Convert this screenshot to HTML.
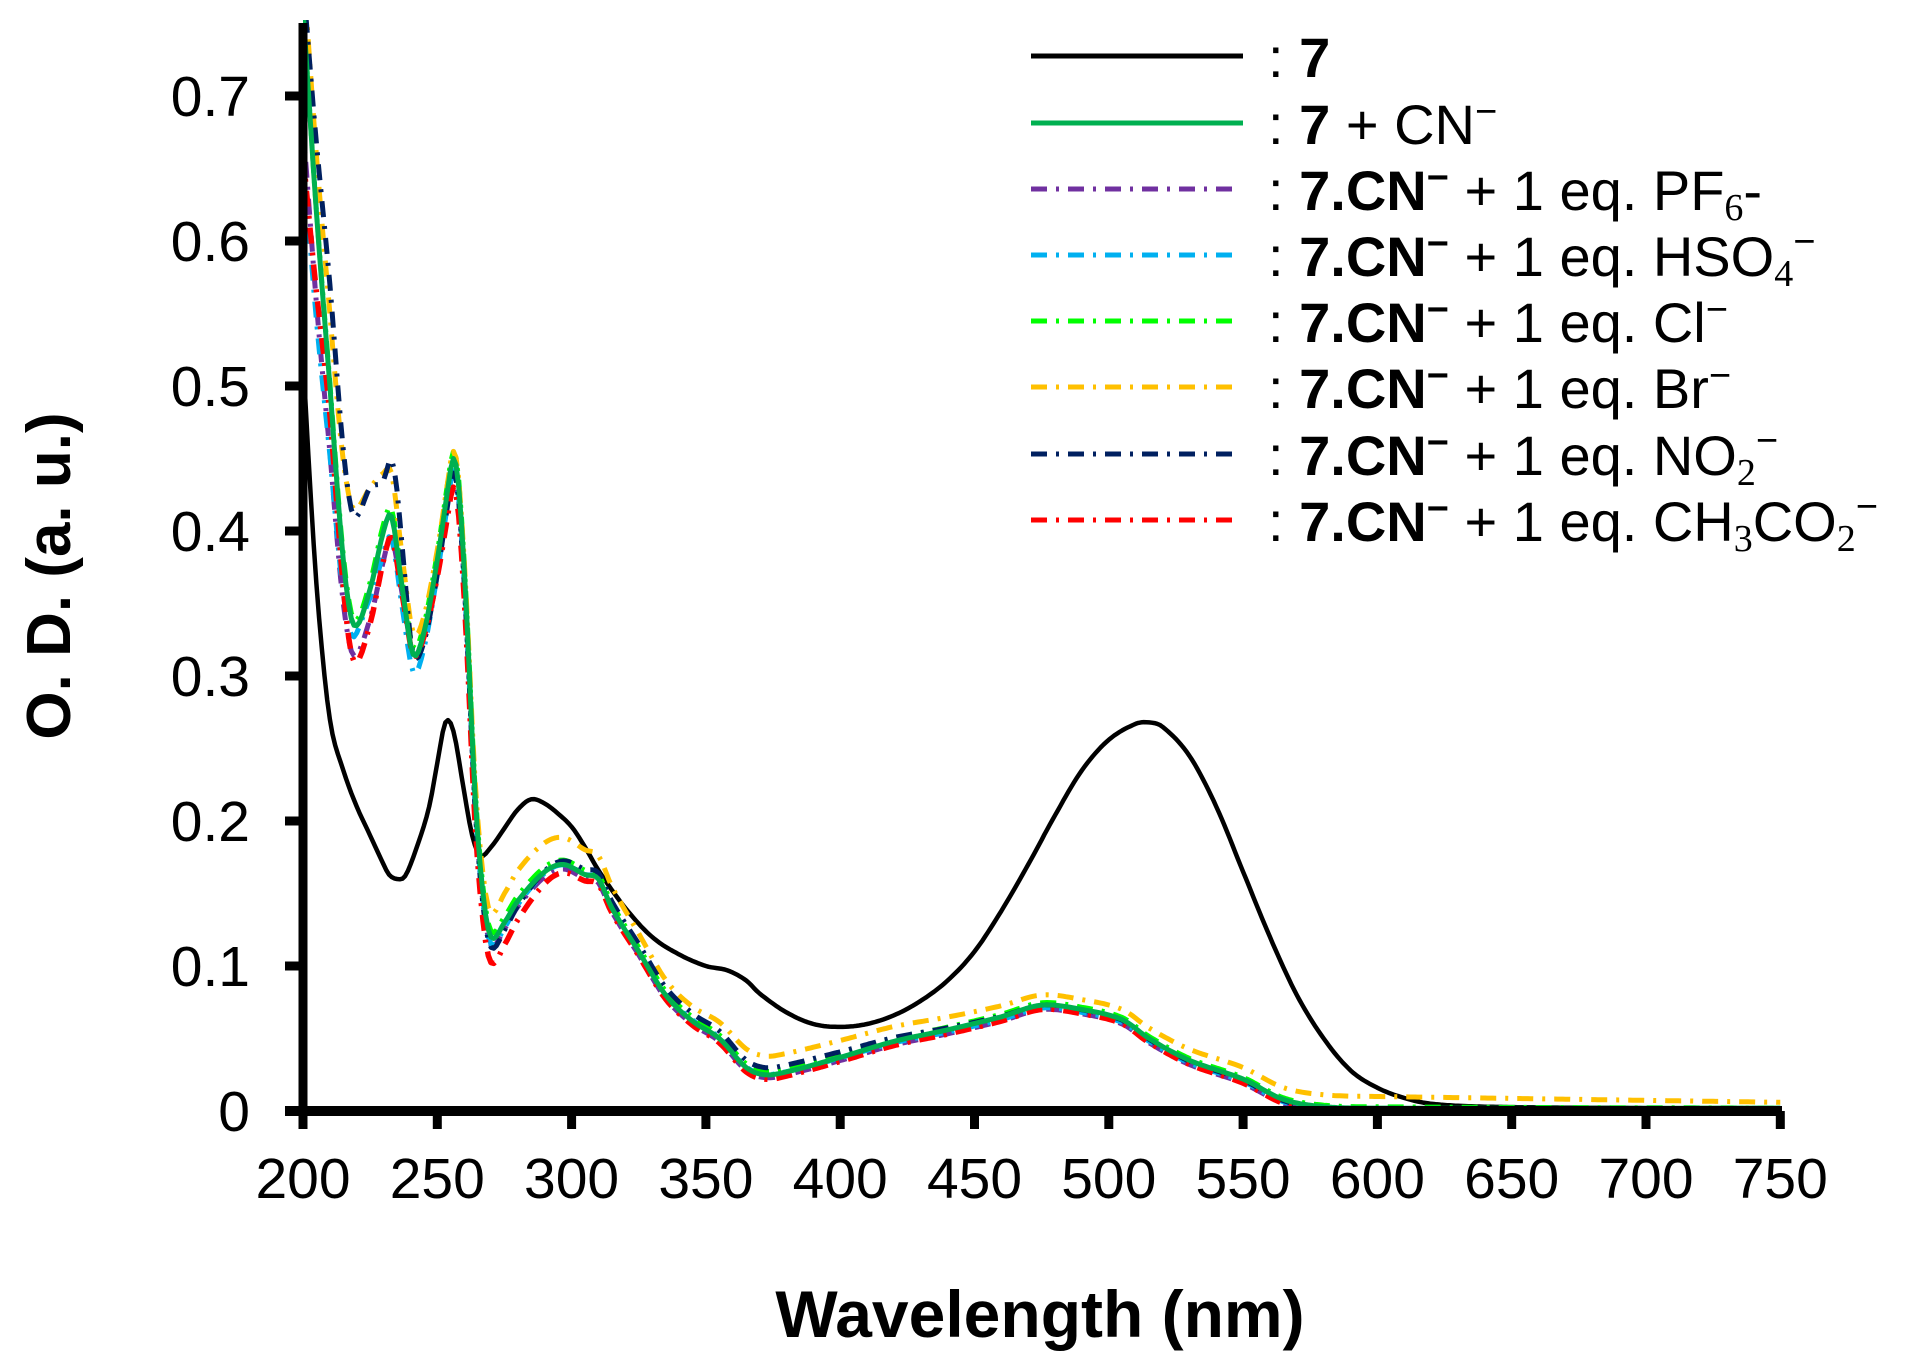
<!DOCTYPE html>
<html><head><meta charset="utf-8"><style>html,body{margin:0;padding:0;background:#fff}svg{display:block}</style></head>
<body>
<svg id="s" width="1918" height="1364" viewBox="0 0 1918 1364" xmlns="http://www.w3.org/2000/svg" font-family="Liberation Sans, Arial, sans-serif">
<defs><clipPath id="c"><rect x="303" y="20" width="1480" height="1095"/></clipPath></defs>
<g id="curves" clip-path="url(#c)" fill="none" stroke-linejoin="round"></g>
<line x1="303" y1="23" x2="303" y2="1116" stroke="#000" stroke-width="9"/>
<line x1="285" y1="1111" x2="1782" y2="1111" stroke="#000" stroke-width="10"/>
<g id="ticks" stroke="#000" stroke-width="9"></g>
<g id="labels" font-size="57" fill="#000"></g>
<text transform="translate(70,576) rotate(-90)" text-anchor="middle" font-size="62" font-weight="bold">O. D. (a. u.)</text>
<text x="1040" y="1337" text-anchor="middle" font-size="66" font-weight="bold">Wavelength (nm)</text>
<g stroke-width="5" fill="none">
<line x1="1031" y1="56" x2="1243" y2="56" stroke="#000"/>
<line x1="1031" y1="123" x2="1243" y2="123" stroke="#00b050"/>
<line x1="1031" y1="189" x2="1232" y2="189" stroke="#7030a0" stroke-dasharray="16 9 3 9"/>
<line x1="1031" y1="255" x2="1232" y2="255" stroke="#00b0f0" stroke-dasharray="16 9 3 9"/>
<line x1="1031" y1="321" x2="1232" y2="321" stroke="#00ff00" stroke-dasharray="16 9 3 9"/>
<line x1="1031" y1="387" x2="1232" y2="387" stroke="#ffc000" stroke-dasharray="16 9 3 9"/>
<line x1="1031" y1="454" x2="1232" y2="454" stroke="#002060" stroke-dasharray="16 9 3 9"/>
<line x1="1031" y1="520" x2="1232" y2="520" stroke="#ff0000" stroke-dasharray="16 9 3 9"/>
</g>
<g font-size="56" fill="#000">
<text x="1268" y="77">: <tspan font-weight="bold">7</tspan></text>
<text x="1268" y="144">: <tspan font-weight="bold">7</tspan> + CN<tspan dy="-20" font-size="38">−</tspan></text>
<text x="1268" y="210">: <tspan font-weight="bold">7.CN<tspan dy="-20" font-size="38">−</tspan></tspan><tspan dy="20"> + 1 eq. PF</tspan><tspan dy="10" font-size="38" font-family="Liberation Serif">6</tspan><tspan dy="-10">-</tspan></text>
<text x="1268" y="276">: <tspan font-weight="bold">7.CN<tspan dy="-20" font-size="38">−</tspan></tspan><tspan dy="20"> + 1 eq. HSO</tspan><tspan dy="10" font-size="38" font-family="Liberation Serif">4</tspan><tspan dy="-32" font-size="38">−</tspan></text>
<text x="1268" y="342">: <tspan font-weight="bold">7.CN<tspan dy="-20" font-size="38">−</tspan></tspan><tspan dy="20"> + 1 eq. Cl</tspan><tspan dy="-20" font-size="38">−</tspan></text>
<text x="1268" y="408">: <tspan font-weight="bold">7.CN<tspan dy="-20" font-size="38">−</tspan></tspan><tspan dy="20"> + 1 eq. Br</tspan><tspan dy="-20" font-size="38">−</tspan></text>
<text x="1268" y="475">: <tspan font-weight="bold">7.CN<tspan dy="-20" font-size="38">−</tspan></tspan><tspan dy="20"> + 1 eq. NO</tspan><tspan dy="10" font-size="38" font-family="Liberation Serif">2</tspan><tspan dy="-32" font-size="38">−</tspan></text>
<text x="1268" y="541">: <tspan font-weight="bold">7.CN<tspan dy="-20" font-size="38">−</tspan></tspan><tspan dy="20"> + 1 eq. CH</tspan><tspan dy="10" font-size="38" font-family="Liberation Serif">3</tspan><tspan dy="-10">CO</tspan><tspan dy="10" font-size="38" font-family="Liberation Serif">2</tspan><tspan dy="-32" font-size="38">−</tspan></text>
</g>
</svg>
<script>
var NS="http://www.w3.org/2000/svg";
function X(nm){return 303+(nm-200)*134.3/50;}
function Y(v){return 1111-v*1450;}
var t=document.getElementById('ticks'),l=document.getElementById('labels');
function el(p,tag,a,txt){var e=document.createElementNS(NS,tag);for(var k in a)e.setAttribute(k,a[k]);if(txt!=null)e.textContent=txt;p.appendChild(e);return e;}
for(var nm=200;nm<=750;nm+=50){var x=X(nm);el(t,'line',{x1:x,y1:1111,x2:x,y2:1129});el(l,'text',{x:x,y:1198,'text-anchor':'middle'},String(nm));}
for(var i=0;i<=7;i++){var y=Y(i/10);el(t,'line',{x1:285,y1:y,x2:303,y2:y});el(l,'text',{x:250,y:y+20,'text-anchor':'end'},i==0?'0':(i/10).toFixed(1));}
function interp(pts,x){var n=pts.length;
 for(var i=0;i<n-1;i++){if(x>=pts[i][0]&&x<=pts[i+1][0]){
  var x0=pts[i][0],x1=pts[i+1][0],h=x1-x0,f=(x-x0)/h;
  var y0=pts[i][1],y1=pts[i+1][1];
  var m0=i>0?(y1-pts[i-1][1])/(x1-pts[i-1][0]):(y1-y0)/h;
  var m1=i<n-2?(pts[i+2][1]-y0)/(pts[i+2][0]-x0):(y1-y0)/h;
  var f2=f*f,f3=f2*f;
  return (2*f3-3*f2+1)*y0+(f3-2*f2+f)*h*m0+(-2*f3+3*f2)*y1+(f3-f2)*h*m1;}}
 return pts[n-1][1];}
var black=[[200,0.52],[203,0.42],[206,0.34],[210,0.27],[215,0.235],[220,0.21],[225,0.19],[230,0.17],[232,0.163],[235,0.16],[238,0.162],[242,0.18],[247,0.21],[250,0.24],[253,0.268],[256,0.262],[260,0.22],[263,0.19],[266,0.176],[270,0.182],[275,0.195],[280,0.208],[285,0.215],[290,0.212],[295,0.205],[300,0.196],[305,0.182],[310,0.166],[320,0.14],[330,0.12],[340,0.108],[350,0.1],[358,0.097],[365,0.09],[370,0.081],[380,0.068],[390,0.06],[400,0.058],[410,0.06],[420,0.066],[430,0.076],[440,0.09],[450,0.11],[460,0.138],[470,0.17],[480,0.204],[490,0.235],[500,0.256],[510,0.267],[515,0.268],[520,0.265],[530,0.245],[540,0.21],[550,0.165],[560,0.12],[570,0.08],[580,0.05],[590,0.028],[600,0.016],[610,0.009],[620,0.005],[640,0.003],[700,0.002],[750,0.001]];
var green=[[200,0.76],[205,0.62],[210,0.5],[215,0.38],[219,0.335],[225,0.36],[230,0.40],[233,0.41],[237,0.36],[241,0.315],[245,0.33],[250,0.38],[254,0.43],[256,0.45],[258,0.43],[261,0.34],[264,0.22],[267,0.15],[270,0.12],[275,0.13],[280,0.145],[290,0.165],[297,0.17],[305,0.163],[310,0.16],[315,0.14],[325,0.11],[335,0.08],[345,0.062],[355,0.05],[365,0.03],[372,0.025],[380,0.027],[400,0.037],[420,0.048],[440,0.056],[460,0.065],[475,0.073],[490,0.07],[505,0.063],[515,0.05],[530,0.035],[550,0.022],[565,0.008],[580,0.003],[600,0.002],[750,0.002]];
var series=[
 ['#000',[],black,'',4.5],
 ['#7030a0',[[200,-0.08],[215,-0.03],[220,-0.02],[230,-0.02],[240,0],[257,-0.01],[272,-0.005],[300,-0.003],[370,-0.002],[475,-0.003],[750,-0.002]],null,'16 9 3 9',5],
 ['#00b0f0',[[200,-0.1],[220,-0.005],[230,-0.015],[241,-0.012],[300,0],[475,-0.002],[750,0]],null,'16 9 3 9',5],
 ['#00ff00',[[200,0],[230,0.005],[300,0.003],[750,0]],null,'16 9 3 9',5],
 ['#ffc000',[[200,0.03],[210,0.05],[219,0.08],[225,0.07],[230,0.04],[233,0.03],[241,0.015],[257,0.005],[275,0.02],[300,0.018],[340,0.01],[370,0.013],[475,0.007],[550,0.008],[600,0.008],[750,0.004]],null,'16 9 3 9',5],
 ['#002060',[[200,0.02],[210,0.07],[219,0.075],[225,0.07],[230,0.035],[235,0.04],[241,0],[257,-0.01],[300,0.003],[370,0.005],[475,0],[750,-0.001]],null,'16 9 3 9',5],
 ['#ff0000',[[200,-0.1],[210,-0.02],[219,-0.025],[230,-0.02],[241,0],[257,-0.02],[300,-0.005],[370,-0.003],[475,-0.003],[750,-0.002]],null,'16 9 3 9',5.5],
 ['#00b050',[],green,'',5]
];
var g=document.getElementById('curves');
series.forEach(function(s){var d='';
 for(var nm=200;nm<=750;nm+=1){var v;
  if(s[2])v=interp(s[2],nm);else v=interp(green,nm)+interp(s[1],nm);
  d+=(nm==200?'M':'L')+X(nm).toFixed(1)+','+Y(v).toFixed(1);}
 var a={d:d,stroke:s[0],'stroke-width':s[4]};if(s[3])a['stroke-dasharray']=s[3];el(g,'path',a);});
</script>
</body></html>
